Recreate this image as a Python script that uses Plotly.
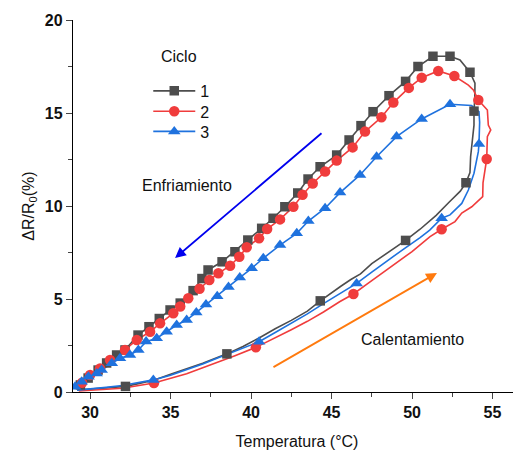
import plotly.graph_objects as go

# ---------------- data ----------------
# Cycle 1 (gray, squares)
c1_heat_x = [29.2, 30.0, 31.0, 32.2, 33.0, 34.0, 35.0, 36.0, 37.0, 38.5, 39.5, 40.5, 41.5, 42.5, 43.5, 44.3, 45.0, 45.6, 46.2, 46.8,
             47.5, 48.5, 49.6, 50.5, 51.5, 52.3, 53.0, 53.35, 53.6, 53.64, 53.75, 53.85, 53.85, 53.9, 53.91, 53.6, 52.98]
c1_heat_y = [0.1, 0.15, 0.22, 0.3, 0.45, 0.65, 0.95, 1.25, 1.55, 2.05, 2.45, 2.9, 3.4, 3.85, 4.35, 4.9, 5.35, 5.7, 6.05, 6.35,
             6.9, 7.5, 8.15, 8.75, 9.5, 10.2, 10.8, 11.25, 11.8, 12.65, 13.6, 14.35, 15.1, 15.8, 16.6, 17.19, 17.85]
c1_heat_marks = [3, 9, 15, 22, 27, 32, 35]
c1_cool_x = [52.36, 51.3, 50.37, 49.6, 48.57, 47.58, 46.83, 46.09, 45.32, 44.29, 43.54, 42.9, 42.1, 41.37, 40.66, 39.8,
             39.0, 38.2, 37.33, 36.95, 36.4, 35.6, 34.97, 34.3, 33.66, 32.98, 32.17, 31.65, 31.03, 30.5, 29.88, 29.4]
c1_cool_y = [18.05, 18.05, 17.5, 16.7, 15.93, 15.07, 14.32, 13.55, 12.74, 12.11, 11.45, 10.7, 9.96, 9.34, 8.8, 8.17,
             7.54, 7.0, 6.56, 6.1, 5.45, 4.78, 4.41, 3.95, 3.51, 3.06, 2.26, 1.99, 1.56, 1.18, 0.75, 0.38]

# Cycle 2 (red, circles)
c2_heat_x = [29.3, 30.5, 32.0, 33.97, 35.0, 36.0, 37.0, 38.0, 39.0, 40.3, 41.5, 42.5, 43.5, 44.5, 45.5, 46.36, 47.2, 48.0,
             49.0, 50.0, 51.12, 51.84, 52.67, 53.09, 53.71, 54.39, 54.41, 54.64, 54.68, 54.89, 54.74, 54.68, 54.12, 53.81, 53.5]
c2_heat_y = [0.05, 0.1, 0.2, 0.48, 0.72, 0.98, 1.3, 1.62, 1.95, 2.4, 2.9, 3.35, 3.8, 4.3, 4.85, 5.27, 5.8, 6.3,
             6.95, 7.55, 8.35, 8.75, 9.16, 9.62, 9.96, 10.5, 11.24, 12.53, 13.73, 14.09, 14.35, 15.16, 15.7, 16.24, 16.5]
c2_heat_marks = [3, 9, 15, 21, 27, 32]
c2_cool_x = [52.63, 51.63, 50.6, 49.8, 48.84, 48.1, 47.08, 46.31, 45.32, 44.6, 43.83, 43.2, 42.63, 41.8, 41.0, 40.5,
             39.73, 39.27, 38.7, 37.97, 37.41, 36.8, 36.1, 35.6, 35.17, 34.35, 33.73, 32.9, 32.17, 31.24, 30.62, 30.0, 29.5]
c2_cool_y = [16.99, 17.26, 16.9, 16.35, 15.56, 14.77, 14.0, 13.15, 12.44, 11.85, 11.21, 10.6, 9.96, 9.28, 8.76, 8.26,
             7.78, 7.27, 6.79, 6.38, 6.02, 5.55, 5.04, 4.6, 4.23, 3.69, 3.24, 2.8, 2.26, 1.72, 1.27, 0.91, 0.5]

# Cycle 3 (blue, triangles)
c3_heat_x = [29.2, 30.0, 31.0, 32.0, 33.0, 33.93, 35.0, 36.0, 37.0, 38.0, 39.0, 40.5, 41.5, 42.5, 43.5, 44.5, 45.5, 46.56,
             47.5, 48.5, 49.5, 50.5, 51.1, 51.84, 52.36, 53.09, 53.5, 53.85, 53.98, 54.12, 54.16, 54.18, 54.2, 54.16, 53.7]
c3_heat_y = [0.1, 0.15, 0.25, 0.35, 0.5, 0.65, 0.9, 1.2, 1.5, 1.85, 2.2, 2.7, 3.2, 3.7, 4.2, 4.75, 5.3, 5.84,
             6.45, 7.1, 7.7, 8.3, 8.7, 9.34, 9.52, 10.14, 10.86, 11.76, 12.29, 12.92, 13.33, 13.73, 14.5, 15.07, 15.4]
c3_heat_marks = [5, 11, 17, 23, 30]
c3_cool_x = [52.36, 50.6, 49.04, 47.8, 46.77, 45.53, 44.6, 43.56, 42.84, 41.8, 40.76, 40.04, 39.3, 38.6, 37.9, 37.2,
             36.6, 36.0, 35.38, 34.76, 34.14, 33.48, 33.0, 32.48, 31.86, 31.35, 30.72, 30.41, 29.9, 29.48, 29.07]
c3_cool_y = [15.47, 14.68, 13.73, 12.65, 11.67, 10.72, 9.88, 9.19, 8.53, 7.9, 7.19, 6.65, 6.15, 5.65, 5.15, 4.7,
             4.28, 3.87, 3.6, 3.24, 2.89, 2.71, 2.26, 1.99, 1.81, 1.54, 1.18, 1.0, 0.82, 0.55, 0.28]

series_names = ["1", "2", "3"]
legend_title = "Ciclo"
x_title = "Temperatura (°C)"
y_title = "ΔR/R<sub>0</sub>(%)"
x_ticks = [30, 35, 40, 45, 50, 55]
y_ticks = [0, 5, 10, 15, 20]
label_cool = "Enfriamiento"
label_heat = "Calentamiento"

# ---------------- styling ----------------
colors = ["#4d4d4d", "#f03c3c", "#1f72de"]
symbols = ["square", "circle", "triangle-up"]
msizes = [9.5, 10.5, 11]
FONT = "Liberation Sans, Arial, sans-serif"
legend_ids = ["legend", "legend2", "legend3"]
legend_ys = [0.855, 0.800, 0.746]

fig = go.Figure()
data = [
    (c1_heat_x, c1_heat_y, c1_heat_marks, c1_cool_x, c1_cool_y),
    (c2_heat_x, c2_heat_y, c2_heat_marks, c2_cool_x, c2_cool_y),
    (c3_heat_x, c3_heat_y, c3_heat_marks, c3_cool_x, c3_cool_y),
]
for i, (hx, hy, hm, cx, cy) in enumerate(data):
    fig.add_trace(go.Scatter(x=hx + cx, y=hy + cy, mode="lines",
                             line=dict(color=colors[i], width=1.6),
                             showlegend=False, hoverinfo="skip"))
for i, (hx, hy, hm, cx, cy) in enumerate(data):
    mx = [hx[k] for k in hm] + cx
    my = [hy[k] for k in hm] + cy
    fig.add_trace(go.Scatter(x=mx, y=my, mode="markers",
                             marker=dict(color=colors[i], symbol=symbols[i], size=msizes[i], line=dict(width=0)),
                             showlegend=False))
for i in range(3):
    fig.add_trace(go.Scatter(x=[None], y=[None], mode="lines+markers", name=series_names[i],
                             legend=legend_ids[i],
                             line=dict(color=colors[i], width=1.6),
                             marker=dict(color=colors[i], symbol=symbols[i], size=msizes[i], line=dict(width=0))))

# arrows
fig.add_annotation(x=35.28, y=7.2, ax=44.47, ay=13.98, xref="x", yref="y", axref="x", ayref="y",
                   text="", showarrow=True, arrowhead=2, arrowsize=1.2, arrowwidth=1.8, arrowcolor="#0000ee")
fig.add_annotation(x=51.55, y=6.4, ax=41.3, ay=1.29, xref="x", yref="y", axref="x", ayref="y",
                   text="", showarrow=True, arrowhead=2, arrowsize=1.2, arrowwidth=1.8, arrowcolor="#ff7a0e")
fig.add_annotation(x=36.02, y=11.08, xref="x", yref="y", text=label_cool, showarrow=False,
                   font=dict(family=FONT, size=16, color="#111"))
fig.add_annotation(x=50.0, y=2.8, xref="x", yref="y", text=label_heat, showarrow=False,
                   font=dict(family=FONT, size=16, color="#111"))
# legend title as a text label
fig.add_annotation(x=0.2366, y=0.903, xref="paper", yref="paper", xanchor="center", yanchor="middle",
                   text=legend_title, showarrow=False,
                   font=dict(family=FONT, size=16, color="#111"))

leg_common = dict(xanchor="left", yanchor="top", itemwidth=42, font=dict(size=16),
                  bgcolor="rgba(0,0,0,0)", x=0.168)

fig.update_layout(
    width=521, height=455,
    margin=dict(l=65, r=8, t=12, b=71),
    paper_bgcolor="white", plot_bgcolor="white",
    font=dict(family=FONT, color="#111"),
    legend=dict(y=legend_ys[0], **leg_common),
    legend2=dict(y=legend_ys[1], **leg_common),
    legend3=dict(y=legend_ys[2], **leg_common),
    xaxis=dict(range=[28.94, 56.77], tickvals=x_ticks, ticks="outside", ticklen=6, tickwidth=1.2,
               automargin=False,
               showline=True, linecolor="black", linewidth=1.3, showgrid=False, zeroline=False,
               tickfont=dict(size=16, family=FONT, weight="bold", color="#111"),
               minor=dict(dtick=2.5, tick0=0, ticks="outside", ticklen=4, tickwidth=1.2, showgrid=False),
               title=dict(text=x_title, font=dict(size=16), standoff=15)),
    yaxis=dict(range=[0, 20], tickvals=y_ticks, ticks="outside", ticklen=6, tickwidth=1.2,
               automargin=False,
               showline=True, linecolor="black", linewidth=1.3, showgrid=False, zeroline=False,
               tickfont=dict(size=16, family=FONT, weight="bold", color="#111"),
               minor=dict(dtick=2.5, tick0=0, ticks="outside", ticklen=4, tickwidth=1.2, showgrid=False),
               title=dict(text=y_title, font=dict(size=16), standoff=6)),
)

fig.write_html("out.html")
